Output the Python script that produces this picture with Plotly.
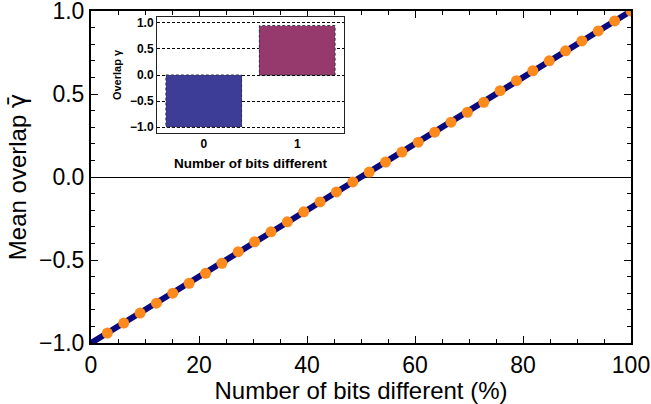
import plotly.graph_objects as go

# ---- data ----
bits_pct = [3.03, 6.06, 9.09, 12.12, 15.15, 18.18, 21.21, 24.24, 27.27, 30.30,
            33.33, 36.36, 39.39, 42.42, 45.45, 48.48, 51.52, 54.55, 57.58, 60.61,
            63.64, 66.67, 69.70, 72.73, 75.76, 78.79, 81.82, 84.85, 87.88, 90.91,
            93.94, 96.97, 100.0]
mean_overlap = [-0.94, -0.88, -0.82, -0.76, -0.70, -0.64, -0.58, -0.52, -0.45, -0.39,
                -0.33, -0.27, -0.21, -0.15, -0.09, -0.03, 0.03, 0.09, 0.15, 0.21,
                0.27, 0.33, 0.39, 0.45, 0.52, 0.58, 0.64, 0.70, 0.76, 0.82,
                0.88, 0.94, 1.00]
theory_x = [0, 100]
theory_y = [-1.0, 1.0]

inset_bits = [0, 1]
inset_overlap = [-1.0, 0.95]
inset_colors = ["#3d3d98", "#963a6e"]
bar_width = 0.81

main_xticks = [0, 20, 40, 60, 80, 100]
main_yticks = [-1.0, -0.5, 0.0, 0.5, 1.0]
inset_yticks = [-1.0, -0.5, 0.0, 0.5, 1.0]

FONT = "Liberation Sans, Arial, Helvetica, sans-serif"

fig = go.Figure()

# theory line
fig.add_trace(go.Scatter(x=theory_x, y=theory_y, mode="lines",
                         line=dict(color="#0a0a80", width=6),
                         showlegend=False, hoverinfo="skip"))
# simulated points
fig.add_trace(go.Scatter(x=bits_pct, y=mean_overlap, mode="markers",
                         marker=dict(color="#ff8a1c", size=11, line=dict(width=0)),
                         showlegend=False))

# inset bars
fig.add_trace(go.Bar(x=inset_bits, y=inset_overlap, width=bar_width,
                     marker=dict(color=inset_colors, line=dict(width=0)),
                     xaxis="x2", yaxis="y2", showlegend=False))
# dashed bar outlines built from the data
for b, v in zip(inset_bits, inset_overlap):
    x0, x1 = b - bar_width / 2, b + bar_width / 2
    fig.add_trace(go.Scatter(x=[x0, x1, x1, x0, x0], y=[0, 0, v, v, 0],
                             mode="lines", line=dict(color="#333344", width=1, dash="3px,2px"),
                             xaxis="x2", yaxis="y2", showlegend=False, hoverinfo="skip"))

tickfont = dict(family=FONT, size=23, color="black")

fig.update_layout(
    width=651, height=404,
    margin=dict(l=91, r=20, t=11, b=61),
    plot_bgcolor="white", paper_bgcolor="white",
    font=dict(family=FONT, color="black"),
    xaxis=dict(
        domain=[0, 1], range=[0, 100], tickvals=main_xticks, automargin=False,
        ticklabeloverflow="allow",
        ticks="inside", ticklen=7, tickwidth=1, tickcolor="black",
        minor=dict(dtick=5, ticks="inside", ticklen=4, tickcolor="black"),
        showline=True, linecolor="black", linewidth=2, mirror="allticks",
        showgrid=False, zeroline=False, tickfont=tickfont,
        title=dict(text="Number of bits different (%)", font=dict(family=FONT, size=24),
                   standoff=4),
    ),
    yaxis=dict(
        domain=[0, 1], range=[-1, 1], tickvals=main_yticks, tickformat=".1f",
        automargin=False, ticklabeloverflow="allow",
        ticks="inside", ticklen=7, tickwidth=1, tickcolor="black",
        minor=dict(dtick=0.1, ticks="inside", ticklen=4, tickcolor="black"),
        showline=True, linecolor="black", linewidth=2, mirror="allticks",
        showgrid=False, zeroline=True, zerolinecolor="black", zerolinewidth=1,
        tickfont=tickfont,
        title=dict(text="Mean overlap <span style='font-family:DejaVu Sans'>\u03b3\u0304</span>",
                   font=dict(family=FONT, size=24), standoff=6),
    ),
    xaxis2=dict(
        domain=[0.1222, 0.4685], anchor="y2", range=[-0.5, 1.5], automargin=False,
        tickvals=inset_bits, ticks="", showgrid=False, zeroline=False,
        showline=True, linecolor="#222222", linewidth=1, mirror=True,
        tickfont=dict(family=FONT, size=12, color="black", weight="bold"),
        title=dict(text="Number of bits different",
                   font=dict(family=FONT, size=13.5, color="black", weight="bold"), standoff=8),
    ),
    yaxis2=dict(
        domain=[0.6325, 0.9819], anchor="x2", range=[-1.115, 1.115], automargin=False,
        tickvals=inset_yticks, tickformat=".1f", ticks="inside", ticklen=3,
        tickcolor="black",
        showgrid=True, gridcolor="black", gridwidth=1, griddash="3px,2px",
        zeroline=False,
        showline=True, linecolor="#222222", linewidth=1, mirror=True,
        tickfont=dict(family=FONT, size=12, color="black", weight="bold"),
        title=dict(text="Overlap \u03b3",
                   font=dict(family=FONT, size=11, color="black", weight="bold"), standoff=6),
    ),
    bargap=0,
)

fig.write_html("out.html", config={"displayModeBar": False},
               post_script="document.body.style.margin='0';")
